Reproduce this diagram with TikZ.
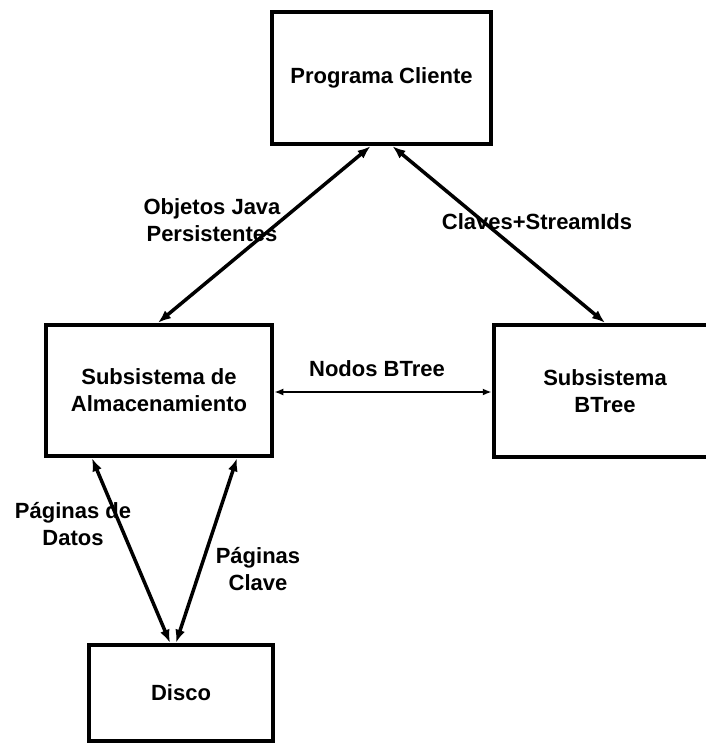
\documentclass[tikz,border=0pt]{standalone}
\usepackage{fontspec}
\setmainfont{Liberation Sans}
\usetikzlibrary{arrows.meta}
\begin{document}
\begin{tikzpicture}[x=1pt,y=-1pt,
  every node/.style={font=\bfseries\fontsize{22}{27}\selectfont, align=center, inner sep=0pt},
  block/.style={draw, line width=4.5pt, rectangle},
  link/.style={line width=3.5pt, {Latex[length=13pt,width=10pt]}-{Latex[length=13pt,width=10pt]}},
  thinlink/.style={line width=2.5pt, {Latex[length=9pt,width=7pt]}-{Latex[length=9pt,width=7pt]}}
]
\useasboundingbox (0,0) rectangle (706,744);
\clip (0,0) rectangle (706,744);

% subsystems
\node[block, minimum width=219pt, minimum height=132pt] (prog) at (381.5,78) {Programa Cliente};
\node[block, minimum width=226pt, minimum height=131pt] (alm) at (159,390.5) {Subsistema de\\Almacenamiento};
\node[block, minimum width=222pt, minimum height=132pt] (btree) at (605,391) {Subsistema\\BTree};
\node[block, minimum width=184pt, minimum height=96pt] (disco) at (181,693) {Disco};

% connectors
\draw[link] ([xshift=-11pt]prog.south) -- ([xshift=-1pt]alm.north);
\draw[link] ([xshift=11pt]prog.south) -- (btree.north);
\draw[thinlink] (alm.east |- 0,392) -- (btree.west |- 0,392);
\draw[link] ([xshift=-67pt]alm.south) -- ([xshift=-11pt]disco.north);
\draw[link] ([xshift=78pt]alm.south) -- ([xshift=-5pt]disco.north);

% connector labels
\node (lobj) at (212,220) {Objetos Java\\Persistentes};
\node (lcla) at (537,222) {Claves+StreamIds};
\node (lnod) at (377,369) {Nodos BTree};
\node (ldat) at (73,524) {Páginas de\\Datos};
\node (lcl) at (258,569) {Páginas\\Clave};
\end{tikzpicture}
\end{document}
